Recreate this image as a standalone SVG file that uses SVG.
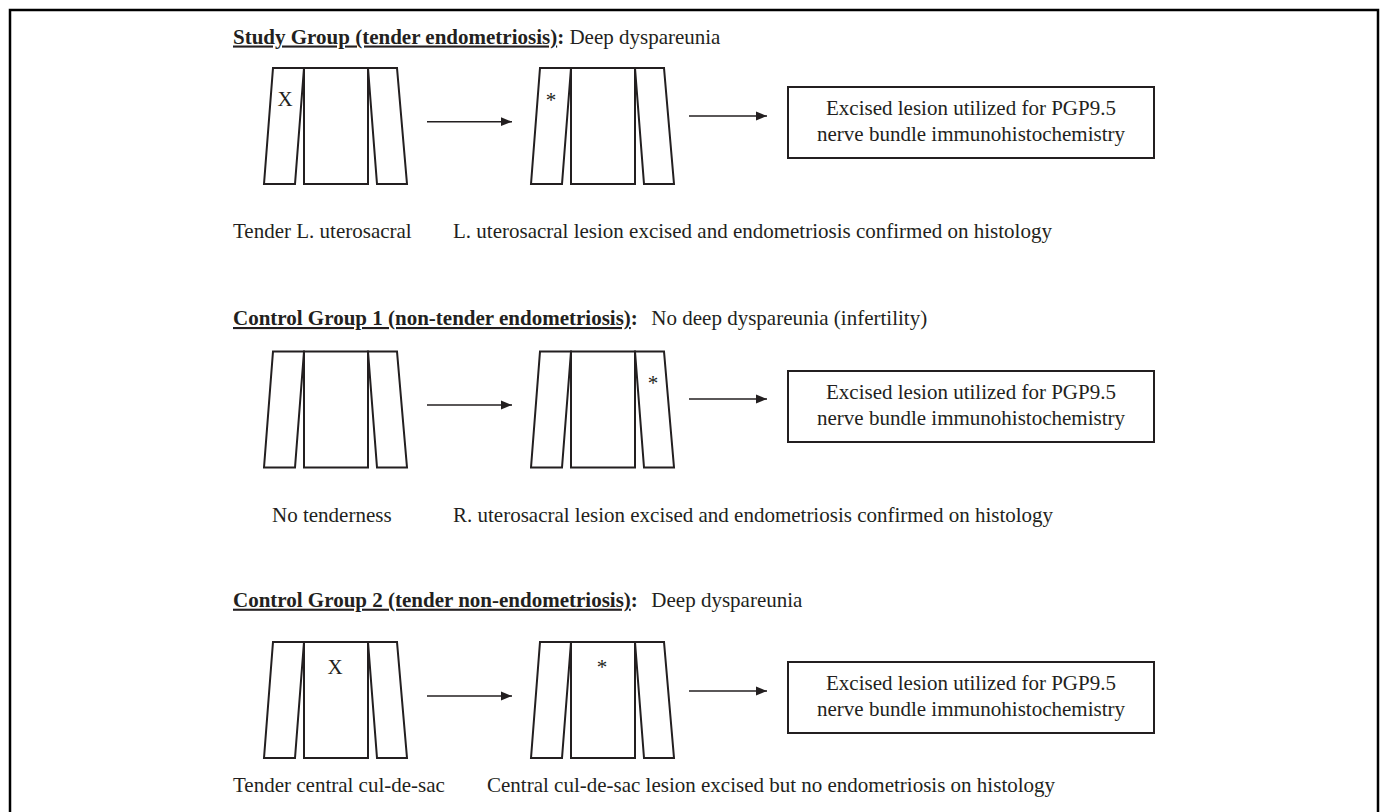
<svg xmlns="http://www.w3.org/2000/svg" width="1383" height="812" viewBox="0 0 1383 812">
<defs>
<style>
text{font-family:"Liberation Serif","Times New Roman",serif;font-size:21px;fill:#231f20}
.b{font-weight:bold}
.u{text-decoration:underline}
.box{fill:#fff;stroke:#231f20;stroke-width:2}
.arr{stroke:#231f20;stroke-width:1.5;fill:none;marker-end:url(#ah)}
.frame{fill:none;stroke:#000;stroke-width:2.5}
.mid{text-anchor:middle}
</style>
<marker id="ah" markerUnits="userSpaceOnUse" markerWidth="12" markerHeight="10" refX="11" refY="5" orient="auto" viewBox="0 0 12 10"><path d="M0,0.6 L11,5 L0,9.4 z" fill="#231f20"/></marker>
<g id="pelvis" fill="none" stroke="#231f20" stroke-width="2" stroke-linejoin="miter">
<polygon points="9,0 40,0 31,116 0,116"/>
<rect x="40" y="0" width="64" height="116"/>
<polygon points="104,0 133,0 143,116 113,116"/>
</g>
</defs>
<rect width="1383" height="812" fill="#fff"/>
<path class="frame" d="M10,812 V10 H1378 V812"/>

<g id="group1">
<g id="g1-header"><text x="233" y="43.5" xml:space="preserve"><tspan class="b u">Study Group (tender endometriosis)</tspan><tspan class="b">:</tspan> Deep dyspareunia</text></g>
<g id="g1-before"><use href="#pelvis" x="264" y="68"/><text x="285" y="106" class="mid">X</text></g>
<g id="g1-after"><use href="#pelvis" x="531" y="68"/><text x="551" y="107" class="mid">*</text></g>
<g id="g1-box"><rect class="box" x="788" y="87" width="366" height="71"/><text x="971" y="115" class="mid">Excised lesion utilized for PGP9.5</text><text x="971" y="141" class="mid">nerve bundle immunohistochemistry</text></g>
<g id="g1-labels"><text x="233" y="238">Tender L. uterosacral</text><text x="453" y="238">L. uterosacral lesion excised and endometriosis confirmed on histology</text></g>
</g>

<g id="group2">
<g id="g2-header"><text x="233" y="325" xml:space="preserve"><tspan class="b u">Control Group 1 (non-tender endometriosis)</tspan><tspan class="b">:</tspan>  <tspan dx="3">No deep dyspareunia (infertility)</tspan></text></g>
<g id="g2-before"><use href="#pelvis" x="264" y="351.5"/></g>
<g id="g2-after"><use href="#pelvis" x="531" y="351.5"/><text x="653" y="390" class="mid">*</text></g>
<g id="g2-box"><rect class="box" x="788" y="371" width="366" height="71"/><text x="971" y="399" class="mid">Excised lesion utilized for PGP9.5</text><text x="971" y="425" class="mid">nerve bundle immunohistochemistry</text></g>
<g id="g2-labels"><text x="272" y="522">No tenderness</text><text x="453" y="522">R. uterosacral lesion excised and endometriosis confirmed on histology</text></g>
</g>

<g id="group3">
<g id="g3-header"><text x="233" y="606.7" xml:space="preserve"><tspan class="b u">Control Group 2 (tender non-endometriosis)</tspan><tspan class="b">:</tspan>  <tspan dx="3">Deep dyspareunia</tspan></text></g>
<g id="g3-before"><use href="#pelvis" x="264" y="642"/><text x="335" y="674" class="mid">X</text></g>
<g id="g3-after"><use href="#pelvis" x="531" y="642"/><text x="602" y="674" class="mid">*</text></g>
<g id="g3-box"><rect class="box" x="788" y="662" width="366" height="71"/><text x="971" y="690" class="mid">Excised lesion utilized for PGP9.5</text><text x="971" y="716" class="mid">nerve bundle immunohistochemistry</text></g>
<g id="g3-labels"><text x="233" y="792">Tender central cul-de-sac</text><text x="487" y="792">Central cul-de-sac lesion excised but no endometriosis on histology</text></g>
</g>

<g id="connectors">
<line class="arr" x1="427" y1="121.7" x2="512" y2="121.7"/>
<line class="arr" x1="689" y1="116" x2="767" y2="116"/>
<line class="arr" x1="427" y1="405" x2="512" y2="405"/>
<line class="arr" x1="689" y1="399" x2="767" y2="399"/>
<line class="arr" x1="427" y1="696" x2="512" y2="696"/>
<line class="arr" x1="689" y1="691" x2="767" y2="691"/>
</g>
</svg>
